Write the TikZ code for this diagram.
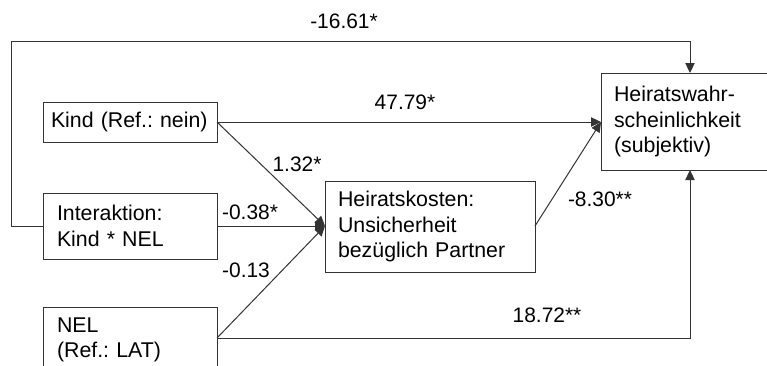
\documentclass[tikz,border=0pt]{standalone}
\usepackage{fontspec}
\setmainfont{Liberation Sans}
\usetikzlibrary{arrows.meta}
\begin{document}
\frenchspacing
\begin{tikzpicture}[x=0.75pt,y=-0.75pt,
  box/.style={draw=black!80,line width=0.75pt,rectangle,inner sep=0pt,
    font=\fontsize{16}{19.2}\selectfont,align=left},
  lab/.style={font=\fontsize{15.7}{19}\selectfont,inner sep=0pt,anchor=base},
  conn/.style={draw=black!80,line width=0.75pt},
  arr/.style={conn,-{Triangle[length=7.5pt,width=7pt]}}]
\useasboundingbox (0,0) rectangle (767,365);
\clip (0,0) rectangle (767,365);
% boxes
\node[box,minimum width=174pt*0.75,minimum height=40pt*0.75,text width=158pt*0.75] (kind) at (130,122) {Kind (Ref.: nein)};
\node[box,minimum width=174pt*0.75,minimum height=66pt*0.75,text width=146pt*0.75] (inter) at (130,226) {Interaktion:\\Kind * NEL};
\node[box,minimum width=174pt*0.75,minimum height=66pt*0.75,text width=146pt*0.75] (nel) at (130,340) {NEL\\(Ref.: LAT)};
\node[box,minimum width=210pt*0.75,minimum height=91pt*0.75,text width=184pt*0.75] (kost) at (430,226.5) {Heiratskosten:\\Unsicherheit\\bezüglich Partner};
\node[box,minimum width=180pt*0.75,minimum height=97pt*0.75,text width=154pt*0.75] (heir) at (691,121.5) {Heiratswahr-\\scheinlichkeit\\(subjektiv)};
% coordinates
\coordinate (kindE) at (217,122);
\coordinate (nelE) at (217,338);
\coordinate (kostW) at (325,226);
\coordinate (kostE) at (535,226);
\coordinate (heirW) at (601,122);
\coordinate (heirN) at (690,73);
\coordinate (heirS) at (690,170);
\coordinate (c1) at (11,226);
\coordinate (c2) at (11,41);
\coordinate (c3) at (690,41);
\coordinate (c4) at (690,338);
% connectors
\draw[arr] (inter.west) -- (c1) -- (c2) -- (c3) -- (heirN);
\draw[arr] (kindE) -- (heirW);
\draw[arr] (kindE) -- (kostW);
\draw[arr] (inter.east) -- (kostW);
\draw[arr] (nelE) -- (kostW);
\draw[arr] (kostE) -- (heirW);
\draw[arr] (nelE) -- (c4) -- (heirS);
% labels
\node[lab] (l1) at (344,28) {-16.61*};
\node[lab] (l2) at (405,109) {47.79*};
\node[lab] (l3) at (297,171) {1.32*};
\node[lab] (l4) at (250,219) {-0.38*};
\node[lab] (l5) at (246,277) {-0.13};
\node[lab] (l6) at (600,206) {-8.30**};
\node[lab] (l7) at (547,322) {18.72**};
\end{tikzpicture}
\end{document}
